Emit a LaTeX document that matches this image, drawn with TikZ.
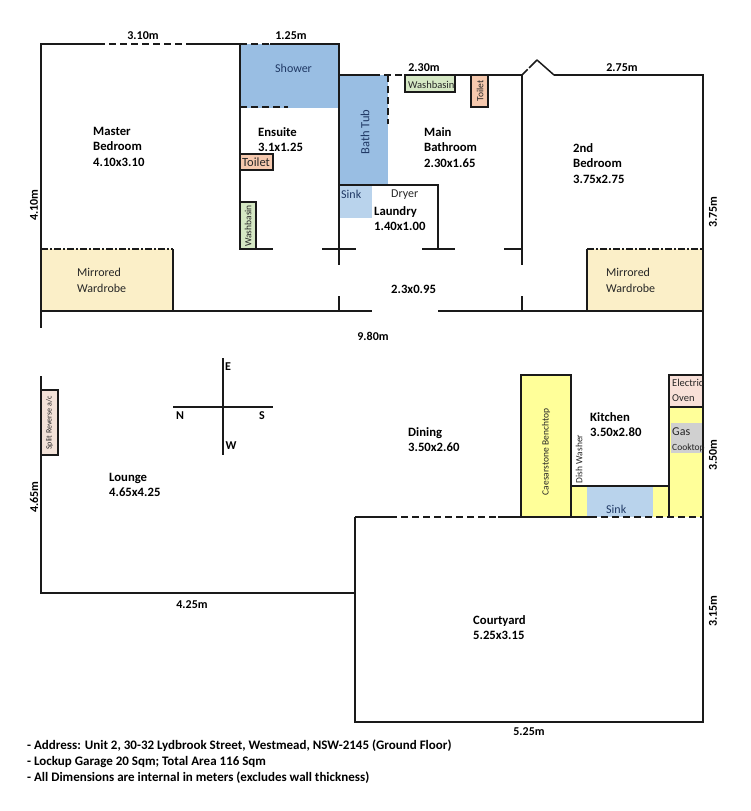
\documentclass[tikz,border=0pt]{standalone}
\usepackage{fontspec}
\setmainfont{Carlito}
\definecolor{wall}{HTML}{1A1A1A}
\definecolor{ink}{HTML}{262626}
\definecolor{navy}{HTML}{1F3864}
\definecolor{bluefill}{HTML}{99BEE3}
\definecolor{lightblue}{HTML}{B9D3EC}
\definecolor{wardfill}{HTML}{FBEFC8}
\definecolor{yellowfill}{HTML}{FFFF99}
\definecolor{greenfill}{HTML}{D5E8C4}
\definecolor{orangefill}{HTML}{F6C9AE}
\definecolor{pinkfill}{HTML}{F8E0D8}
\definecolor{splitfill}{HTML}{F3E2D8}
\definecolor{greyfill}{HTML}{D0D0D0}
\tikzset{
  x=1pt,y=-1pt,
  wallline/.style={draw=wall,line width=1.5pt},
  thin wall/.style={draw=wall,line width=1.2pt},
  dashwall/.style={draw=wall,line width=1.5pt,dash pattern=on 7pt off 4pt},
  dashdot/.style={draw=wall,line width=1.5pt,dash pattern=on 7pt off 2pt on 2pt off 2pt},
  label/.style={text=ink,font=\fontsize{12}{14}\selectfont,align=left,inner sep=0pt,anchor=north west},
  room/.style={text=black,font=\fontsize{12.7}{15.5}\selectfont\bfseries,align=left,inner sep=0pt,anchor=north west},
  dim/.style={text=black,font=\fontsize{12}{14}\selectfont\bfseries,inner sep=0pt},
  vsmall/.style={text=ink,font=\fontsize{10}{12}\selectfont,inner sep=0pt,rotate=90},
  fixture/.style={draw=wall,line width=1.5pt},
}
\begin{document}
\begin{tikzpicture}
\useasboundingbox (0,0) rectangle (750,811);
% fills
\fill[bluefill] (240,44) rectangle (339,108);
\fill[bluefill] (339,75) rectangle (388,185);
\fill[lightblue] (340,186) rectangle (372,218);
\fill[wardfill] (41,249) rectangle (173,311);
\fill[wardfill] (587,249) rectangle (703,311);
\fill[yellowfill] (521,375) rectangle (571,517);
\fill[yellowfill] (571,486) rectangle (669,517);
\fill[lightblue] (587,487) rectangle (653,517);
\fill[yellowfill] (669,407) rectangle (703,517);
\fill[pinkfill] (669,375) rectangle (703,407);
\fill[greyfill] (671,423) rectangle (703,453);
% fixtures
\node[fixture,fill=greenfill,minimum width=16pt,minimum height=47pt,inner sep=0pt] (wbe) at (248,225.5) {};
\node[fixture,fill=orangefill,minimum width=33pt,minimum height=16pt,inner sep=0pt] (te) at (256.5,162) {};
\node[fixture,fill=greenfill,minimum width=50pt,minimum height=17pt,inner sep=0pt] (wbm) at (430,83.5) {};
\node[fixture,fill=orangefill,minimum width=17pt,minimum height=32pt,inner sep=0pt] (tm) at (479.5,91) {};
\node[fixture,fill=splitfill,minimum width=17pt,minimum height=65pt,inner sep=0pt] (split) at (49.5,422.5) {};
% walls
\draw[wallline] (98,44) -- (41,44) -- (41,328);
\draw[wallline] (41,376) -- (41,593) -- (355,593);
\draw[dashwall] (98,44) -- (186,44);
\draw[wallline] (186,44) -- (240,44);
\draw[dashwall] (240,44) -- (270,44);
\draw[wallline] (270,44) -- (339,44) -- (339,265);
\draw[wallline] (339,296) -- (339,311);
\draw[wallline] (240,44) -- (240,249);
\draw[wallline] (339,75) -- (373,75);
\draw[dashwall] (373,75) -- (405,75);
\draw[wallline] (405,75) -- (522,75);
\draw[wallline] (554,75) -- (703,75) -- (703,722) -- (355,722) -- (355,517);
\draw[wallline] (522,75) -- (522,265);
\draw[wallline] (522,296) -- (522,311);
\draw[wallline,dash pattern=on 8pt off 2pt on 12pt off 0pt] (522,75) -- (537,60);
\draw[wallline] (537,60) -- (554,75);
\draw[dashwall] (240,107) -- (288,107);
\draw[dashwall] (388,75) -- (388,124);
\draw[wallline] (339,185) -- (438,185) -- (438,249);
\draw[wallline] (240,249) -- (273,249);
\draw[wallline] (322,249) -- (356,249);
\draw[wallline] (422,249) -- (455,249);
\draw[wallline] (504,249) -- (522,249);
\draw[wallline] (41,311) -- (372,311);
\draw[wallline] (438,311) -- (703,311);
\draw[wallline] (173,249) -- (173,311);
\draw[wallline] (587,249) -- (587,311);
\draw[dashdot] (41,249) -- (173,249);
\draw[dashdot] (587,249) -- (703,249);
% kitchen
\draw[wallline] (521,517) -- (521,375) -- (571,375) -- (571,517);
\draw[wallline] (571,486) -- (669,486);
\draw[wallline] (669,517) -- (669,375) -- (703,375);
\draw[wallline] (669,407) -- (703,407);
\draw[wallline] (355,517) -- (390,517);
\draw[dashwall] (390,517) -- (498,517);
\draw[wallline] (498,517) -- (590,517);
\draw[dashwall] (590,517) -- (703,517);
% compass
\draw[wallline] (173,407) -- (273,407);
\draw[thin wall] (223,358) -- (223,455);
\node[dim] (cE) at (228,367) {E};
\node[dim] (cN) at (180,416) {N};
\node[dim] (cS) at (262,416) {S};
\node[dim] (cW) at (231,446) {W};
% fixture labels
\node[vsmall,font=\fontsize{9.5}{11}\selectfont] (lwbe) at (248,226) {Washbasin};
\node[label,font=\fontsize{12.5}{14}\selectfont] (lte) at (242,158) {Toilet};
\node[label,font=\fontsize{10.5}{12}\selectfont] (lwbm) at (408,81) {Washbasin};
\node[vsmall,font=\fontsize{9.5}{11}\selectfont] (ltm) at (480,91) {Toilet};
\node[vsmall,font=\fontsize{8}{10}\selectfont] (lsplit) at (49.5,423) {Split Reverse a/c};
% room labels
\node[label,text=navy] at (275,64) {Shower};
\node[label,text=navy,rotate=90,anchor=center,font=\fontsize{12.5}{14}\selectfont] at (365,132) {Bath Tub};
\node[label,text=navy] at (341,190) {Sink};
\node[label] at (391,190) {Dryer};
\node[room] at (374,206) {Laundry\\1.40x1.00};
\node[room] at (258,127) {Ensuite\\3.1x1.25};
\node[room] at (424,127) {Main\\Bathroom\\2.30x1.65};
\node[room] at (93,127) {Master\\Bedroom\\4.10x3.10};
\node[room] at (573,143) {2nd\\Bedroom\\3.75x2.75};
\node[label,font=\fontsize{12}{16}\selectfont] at (77,268) {Mirrored\\Wardrobe};
\node[label,font=\fontsize{12}{16}\selectfont] at (606,268) {Mirrored\\Wardrobe};
\node[room] at (391,285) {2.3x0.95};
\node[room] at (408,427) {Dining\\3.50x2.60};
\node[room] at (590,412) {Kitchen\\3.50x2.80};
\node[room] at (109,473) {Lounge\\4.65x4.25};
\node[room] at (473,615) {Courtyard\\5.25x3.15};
\node[vsmall,font=\fontsize{9.5}{11}\selectfont] at (546,452) {Caesarstone Benchtop};
\node[vsmall,font=\fontsize{9.5}{11}\selectfont] at (579,459) {Dish Washer};
\node[label,text=navy] at (606,505) {Sink};
\node[label,font=\fontsize{10.5}{15.5}\selectfont] at (672,379) {Electric\\Oven};
\node[label] at (672,428) {Gas};
\node[label,font=\fontsize{9.5}{11}\selectfont] at (672,444) {Cooktop};
% dimensions
\node[dim] at (143,36) {3.10m};
\node[dim] at (291,36) {1.25m};
\node[dim] at (424,68) {2.30m};
\node[dim] at (622,68) {2.75m};
\node[dim] at (373,336) {9.80m};
\node[dim] at (192,605) {4.25m};
\node[dim] at (529,732) {5.25m};
\node[dim,rotate=90] at (34,205) {4.10m};
\node[dim,rotate=90] at (34,497) {4.65m};
\node[dim,rotate=90] at (713,212) {3.75m};
\node[dim,rotate=90] at (713,455) {3.50m};
\node[dim,rotate=90] at (713,611) {3.15m};
% notes
\node[room,font=\fontsize{13}{16}\selectfont\bfseries] at (27,740) {- Address: Unit 2, 30-32 Lydbrook Street, Westmead, NSW-2145 (Ground Floor)\\- Lockup Garage 20 Sqm; Total Area 116 Sqm\\- All Dimensions are internal in meters (excludes wall thickness)};
\end{tikzpicture}
\end{document}
